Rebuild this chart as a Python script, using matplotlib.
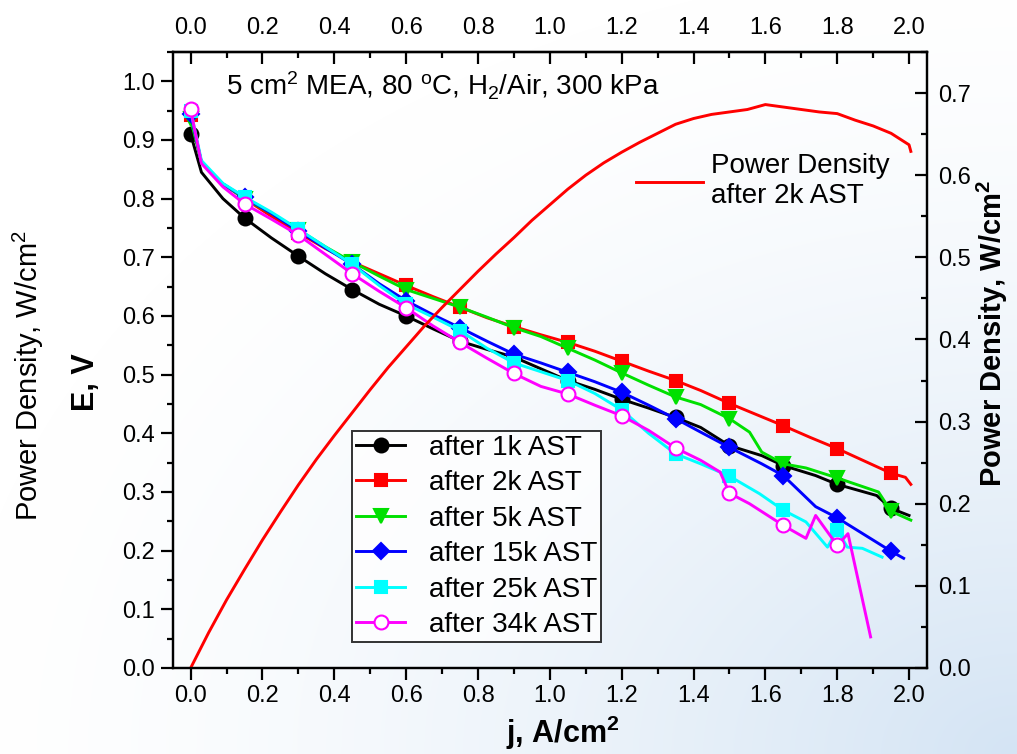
import numpy as np
import matplotlib
matplotlib.use("Agg")
import matplotlib.pyplot as plt
from matplotlib.ticker import MultipleLocator

plt.rcParams['font.family'] = ['Liberation Sans', 'DejaVu Sans']
plt.rcParams['mathtext.default'] = 'regular'

# Polarisation curves: current density j (A/cm2) and cell voltage E (V)
j_1k = [0, 0.03, 0.09, 0.15, 0.225, 0.3, 0.375, 0.45, 0.525, 0.6, 0.675, 0.75, 0.825, 0.9, 0.975,
        1.05, 1.125, 1.2, 1.275, 1.35, 1.42, 1.5, 1.59, 1.65, 1.74, 1.8, 1.91, 1.95, 2.0]
E_1k = [0.91, 0.845, 0.80, 0.767, 0.733, 0.702, 0.672, 0.645, 0.62, 0.60, 0.578, 0.557, 0.543, 0.53, 0.51,
        0.49, 0.475, 0.458, 0.443, 0.427, 0.41, 0.379, 0.362, 0.345, 0.328, 0.313, 0.294, 0.272, 0.26]

j_2k = [0, 0.03, 0.09, 0.15, 0.225, 0.3, 0.375, 0.45, 0.525, 0.6, 0.675, 0.75, 0.825, 0.9, 0.975,
        1.05, 1.125, 1.2, 1.275, 1.35, 1.42, 1.5, 1.575, 1.65, 1.725, 1.8, 1.875, 1.95, 1.99, 2.005]
E_2k = [0.942, 0.862, 0.825, 0.80, 0.77, 0.742, 0.715, 0.692, 0.672, 0.652, 0.633, 0.615, 0.597, 0.582, 0.568,
        0.555, 0.54, 0.523, 0.506, 0.49, 0.473, 0.451, 0.432, 0.413, 0.393, 0.374, 0.353, 0.332, 0.325, 0.313]

j_5k = [0, 0.03, 0.09, 0.15, 0.225, 0.3, 0.375, 0.45, 0.525, 0.6, 0.675, 0.75, 0.825, 0.9, 0.975,
        1.05, 1.125, 1.2, 1.275, 1.35, 1.42, 1.5, 1.556, 1.59, 1.65, 1.713, 1.8, 1.915, 1.95, 2.005]
E_5k = [0.935, 0.862, 0.825, 0.80, 0.775, 0.747, 0.718, 0.692, 0.668, 0.645, 0.63, 0.615, 0.598, 0.58, 0.565,
        0.545, 0.525, 0.503, 0.482, 0.462, 0.449, 0.425, 0.402, 0.368, 0.348, 0.341, 0.324, 0.300, 0.267, 0.252]

j_15k = [0, 0.03, 0.09, 0.15, 0.225, 0.3, 0.375, 0.45, 0.525, 0.6, 0.675, 0.75, 0.825, 0.9, 0.975,
         1.05, 1.125, 1.2, 1.275, 1.35, 1.42, 1.5, 1.59, 1.65, 1.74, 1.8, 1.95, 1.985]
E_15k = [0.945, 0.862, 0.825, 0.802, 0.775, 0.745, 0.716, 0.688, 0.655, 0.626, 0.602, 0.58, 0.557, 0.535, 0.52,
         0.504, 0.488, 0.47, 0.448, 0.425, 0.402, 0.376, 0.348, 0.328, 0.275, 0.256, 0.199, 0.187]

j_25k = [0, 0.03, 0.09, 0.15, 0.225, 0.3, 0.375, 0.45, 0.525, 0.6, 0.675, 0.75, 0.825, 0.9, 0.975,
         1.05, 1.125, 1.2, 1.275, 1.35, 1.42, 1.5, 1.584, 1.65, 1.713, 1.773, 1.8, 1.828, 1.87, 1.925]
E_25k = [0.95, 0.865, 0.826, 0.803, 0.777, 0.748, 0.718, 0.688, 0.652, 0.62, 0.598, 0.575, 0.545, 0.52, 0.505,
         0.49, 0.468, 0.44, 0.40, 0.365, 0.348, 0.327, 0.297, 0.269, 0.249, 0.206, 0.236, 0.206, 0.204, 0.189]

j_34k = [0, 0.03, 0.09, 0.15, 0.225, 0.3, 0.375, 0.45, 0.525, 0.6, 0.675, 0.75, 0.825, 0.9, 0.975,
         1.05, 1.125, 1.2, 1.275, 1.35, 1.42, 1.474, 1.5, 1.556, 1.65, 1.713, 1.74, 1.8, 1.83, 1.893]
E_34k = [0.952, 0.86, 0.82, 0.791, 0.765, 0.738, 0.705, 0.672, 0.642, 0.614, 0.583, 0.555, 0.528, 0.502, 0.48,
         0.467, 0.448, 0.43, 0.405, 0.375, 0.354, 0.334, 0.298, 0.280, 0.243, 0.221, 0.260, 0.209, 0.229, 0.053]

# Power density after 2k AST (W/cm2)
j_pd = [0, 0.05, 0.1, 0.15, 0.2, 0.25, 0.3, 0.35, 0.4, 0.45, 0.5, 0.55, 0.6, 0.65, 0.7, 0.75, 0.8, 0.85,
        0.9, 0.95, 1.0, 1.05, 1.1, 1.15, 1.2, 1.25, 1.3, 1.35, 1.4, 1.45, 1.5, 1.55, 1.6, 1.65, 1.7,
        1.75, 1.8, 1.85, 1.9, 1.95, 2.0, 2.005]
pd_2k = [0, 0.043, 0.083, 0.120, 0.156, 0.190, 0.223, 0.254, 0.283, 0.311, 0.339, 0.366, 0.391, 0.416,
         0.439, 0.461, 0.483, 0.504, 0.524, 0.545, 0.564, 0.583, 0.600, 0.615, 0.628, 0.640, 0.651, 0.662,
         0.669, 0.674, 0.677, 0.680, 0.686, 0.683, 0.680, 0.677, 0.675, 0.667, 0.660, 0.651, 0.637, 0.629]

series = [
    ("after 1k AST", j_1k, E_1k, "black", "o", 10, "black"),
    ("after 2k AST", j_2k, E_2k, "#ff0000", "s", 8.5, "#ff0000"),
    ("after 5k AST", j_5k, E_5k, "#00e000", "v", 10.5, "#00e000"),
    ("after 15k AST", j_15k, E_15k, "#0000ff", "D", 8, "#0000ff"),
    ("after 25k AST", j_25k, E_25k, "#00ffff", "s", 8.5, "#00ffff"),
    ("after 34k AST", j_34k, E_34k, "#ff00ff", "o", 10, "white"),
]

W, H = 1017, 754
fig = plt.figure(figsize=(W / 100, H / 100), dpi=100)

# soft blue shading toward the lower right corner
yy, xx = np.mgrid[0:H, 0:W]
r = np.sqrt(((W - xx) / W) ** 2 + ((H - yy) / H) ** 2)
t = np.clip(1 - r / 1.05, 0, 1) ** 1.5
white = np.array([1.0, 1.0, 1.0])
blue = np.array([212, 228, 244]) / 255
img = white * (1 - t[..., None]) + blue * t[..., None]
bg = fig.add_axes([0, 0, 1, 1], zorder=-5)
bg.imshow(img, aspect='auto', interpolation='bilinear')
bg.axis('off')

ax = fig.add_axes([172.7 / W, 1 - 668 / H, (927 - 172.7) / W, (668 - 52) / H])
ax.set_facecolor('none')
ax2 = ax.twinx()

for label, j, E, col, mk, ms, face in series:
    marks = [i for i, x in enumerate(j) if abs(x / 0.15 - round(x / 0.15)) < 1e-6]
    ax.plot(j, E, color=col, lw=2.1, marker=mk, ms=ms, mfc=face, mec=col, mew=1.5,
            markevery=marks, label=label)

pd_line, = ax2.plot(j_pd, pd_2k, color="#ff0000", lw=2.1)

ax.set_xlim(-0.05, 2.05)
ax.set_ylim(0, 1.05)
ax2.set_ylim(0, 0.75)

ax.xaxis.set_major_locator(MultipleLocator(0.2))
ax.xaxis.set_minor_locator(MultipleLocator(0.1))
ax.yaxis.set_major_locator(MultipleLocator(0.1))
ax.yaxis.set_minor_locator(MultipleLocator(0.05))
ax2.yaxis.set_major_locator(MultipleLocator(0.1))
ax2.yaxis.set_minor_locator(MultipleLocator(0.05))
ax.xaxis.set_major_formatter(lambda v, p: f"{v:.1f}")
ax.yaxis.set_major_formatter(lambda v, p: f"{v:.1f}")
ax2.yaxis.set_major_formatter(lambda v, p: f"{v:.1f}")

top = ax.secondary_xaxis('top')
top.xaxis.set_major_locator(MultipleLocator(0.2))
top.xaxis.set_minor_locator(MultipleLocator(0.1))
top.xaxis.set_major_formatter(lambda v, p: f"{v:.1f}")

for a in (ax, ax2):
    for s in a.spines.values():
        s.set_linewidth(1.6)
top.spines['top'].set_linewidth(1.6)

ax.tick_params(which='major', direction='out', length=8.5, width=1.6, labelsize=17, pad=4)
ax.tick_params(which='minor', direction='out', length=4.5, width=1.6)
ax2.tick_params(which='major', direction='in', length=8.5, width=1.6, labelsize=17, pad=8)
ax2.tick_params(which='minor', direction='in', length=4.5, width=1.6)
top.tick_params(which='major', direction='in', length=8.5, width=1.6, labelsize=17, pad=9)
top.tick_params(which='minor', direction='in', length=4.5, width=1.6)

# axis titles
fig.text(28 / W, 1 - 376 / H, "Power Density, W/cm$^2$", rotation=90, ha='center', va='center', fontsize=21)
fig.text(86 / W, 1 - 382 / H, "E, V", rotation=90, ha='center', va='center', fontsize=22, fontweight='bold')
fig.text(563 / W, 1 - 733 / H, "j, A/cm$^2$", ha='center', va='center', fontsize=22, fontweight='bold')
fig.text(992 / W, 1 - 333 / H, "Power Density, W/cm$^2$", rotation=90, ha='center', va='center',
         fontsize=21, fontweight='bold')

ax.text(0.07, 0.945, "5 cm$^2$ MEA, 80 $^o$C, H$_2$/Air, 300 kPa", transform=ax.transAxes,
        fontsize=20, ha='left', va='center')

leg = ax.legend(loc='lower left', bbox_to_anchor=(0.238, 0.042), borderaxespad=0, fontsize=20,
                frameon=True, fancybox=False, edgecolor='black', handlelength=1.75,
                handletextpad=0.85, labelspacing=0.34, borderpad=0.15)
leg.get_frame().set_linewidth(1.4)
leg.get_frame().set_facecolor('white')

leg2 = ax2.legend([pd_line], ["Power Density\nafter 2k AST"], loc='center left',
                  bbox_to_anchor=(0.6, 0.79), frameon=False, fontsize=20, handlelength=2.4,
                  handletextpad=0.3, borderaxespad=0)

fig.savefig("out.png", dpi=100)
